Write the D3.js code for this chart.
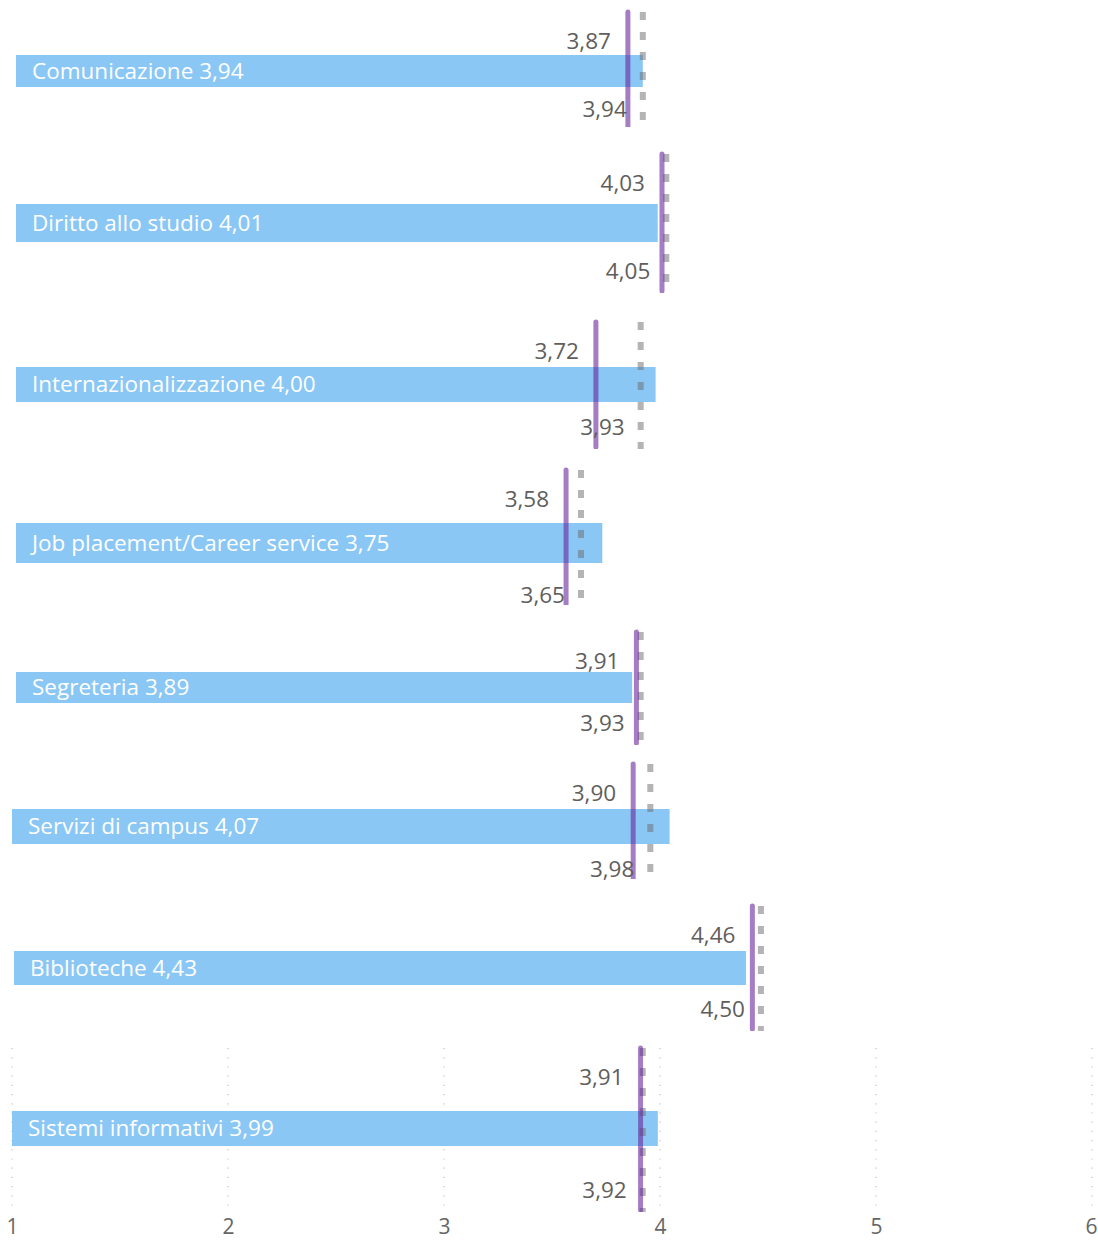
<!DOCTYPE html>
<html>
<head>
<meta charset="utf-8">
<script src="https://cdn.jsdelivr.net/npm/d3@7"></script>
<style>
  html, body { margin: 0; padding: 0; background: #fff; }
  svg { display: block; }
  text { font-family: "Segoe UI", "Open Sans", sans-serif; }
</style>
</head>
<body>
<svg id="chart" width="1098" height="1241"></svg>
<script>
// ---- data ----
const categories = [
  "Comunicazione",
  "Diritto allo studio",
  "Internazionalizzazione",
  "Job placement/Career service",
  "Segreteria",
  "Servizi di campus",
  "Biblioteche",
  "Sistemi informativi"
];
const barValues    = [3.94, 4.01, 4.00, 3.75, 3.89, 4.07, 4.43, 3.99];
const purpleValues = [3.87, 4.03, 3.72, 3.58, 3.91, 3.90, 4.46, 3.91];
const greyValues   = [3.94, 4.05, 3.93, 3.65, 3.93, 3.98, 4.50, 3.92];
const xTicks = [1, 2, 3, 4, 5, 6];
const xDomain = [1, 6];

// ---- layout of the stacked small visuals (pixels) ----
const panels = [
  { x0: 16, x1: 1082, top: 10,   bottom: 131,  clip: 127,  barTop: 55,   barBottom: 87 },
  { x0: 16, x1: 1082, top: 152,  bottom: 293,  clip: 293,  barTop: 204,  barBottom: 242 },
  { x0: 16, x1: 1082, top: 320,  bottom: 449,  clip: 449,  barTop: 367,  barBottom: 402 },
  { x0: 16, x1: 1082, top: 468,  bottom: 617,  clip: 605,  barTop: 523,  barBottom: 563 },
  { x0: 16, x1: 1082, top: 630,  bottom: 745,  clip: 745,  barTop: 672,  barBottom: 703 },
  { x0: 12, x1: 1083, top: 762,  bottom: 891,  clip: 879,  barTop: 809,  barBottom: 844 },
  { x0: 14, x1: 1081, top: 904,  bottom: 1031, clip: 1031, barTop: 951,  barBottom: 985 },
  { x0: 12, x1: 1092, top: 1046, bottom: 1212, clip: 1212, barTop: 1111, barBottom: 1146 }
];

const locale = d3.formatLocale({ decimal: ",", thousands: ".", grouping: [3], currency: ["", "€"] });
const fmt = locale.format(".2f");

const svg = d3.select("#chart");
const defs = svg.append("defs");

const BAR = "#8AC7F5";
const PURPLE = "#67279D";
const GREY = "#696969";
const LABEL = "#605E5C";
const FS = 22.5;

categories.forEach((cat, i) => {
  const p = panels[i];
  const x = d3.scaleLinear().domain(xDomain).range([p.x0, p.x1]);
  const y = d3.scaleBand().domain([cat]).range([p.barTop, p.barBottom]).padding(0);

  const clipId = "clip" + i;
  defs.append("clipPath").attr("id", clipId)
    .append("rect").attr("x", 0).attr("y", p.top - 5)
    .attr("width", 1098).attr("height", p.clip - p.top + 5);

  const g = svg.append("g");

  // gridlines + axis only in the last panel
  if (i === categories.length - 1) {
    g.append("g").selectAll("line").data(xTicks).join("line")
      .attr("x1", d => x(d)).attr("x2", d => x(d))
      .attr("y1", p.top + 2).attr("y2", p.bottom)
      .attr("stroke", "#c4c4c4").attr("stroke-width", 1.2)
      .attr("stroke-dasharray", "1.2,8");
    const axis = d3.axisBottom(x).tickValues(xTicks).tickSize(0).tickPadding(0)
      .tickFormat(d3.format("d"));
    const ax = g.append("g").attr("transform", `translate(0,${p.bottom})`).call(axis);
    ax.select(".domain").remove();
    ax.selectAll("text")
      .attr("y", 22).attr("dy", 0)
      .attr("fill", "#666").attr("font-size", 21)
      .attr("font-family", "'Segoe UI','Open Sans',sans-serif");
    ax.selectAll(".tick").filter(d => d === xDomain[1]).select("text")
      .attr("text-anchor", "end").attr("x", 5);
  }

  // bar
  g.append("rect")
    .attr("x", x(xDomain[0]))
    .attr("y", y(cat))
    .attr("width", x(barValues[i]) - x(xDomain[0]))
    .attr("height", y.bandwidth())
    .attr("fill", BAR);

  // bar label
  g.append("text")
    .attr("x", x(xDomain[0]) + 16)
    .attr("y", y(cat) + y.bandwidth() / 2)
    .attr("dy", "0.35em")
    .attr("fill", "#fff")
    .attr("font-size", FS)
    .text(cat + " " + fmt(barValues[i]));

  const lines = g.append("g").attr("clip-path", `url(#${clipId})`);
  // grey dotted line
  lines.append("line")
    .attr("x1", x(greyValues[i])).attr("x2", x(greyValues[i]))
    .attr("y1", p.top + 2).attr("y2", p.bottom)
    .attr("stroke", GREY).attr("stroke-opacity", 0.5)
    .attr("stroke-width", 6).attr("stroke-dasharray", "8,12");
  // purple solid line
  lines.append("line")
    .attr("x1", x(purpleValues[i])).attr("x2", x(purpleValues[i]))
    .attr("y1", p.top + 2).attr("y2", p.bottom - 2)
    .attr("stroke", PURPLE).attr("stroke-opacity", 0.6)
    .attr("stroke-width", 5).attr("stroke-linecap", "round");

  // upper label (purple value)
  g.append("text")
    .attr("x", x(purpleValues[i]) - 17)
    .attr("y", p.top + 31)
    .attr("dy", "0.35em")
    .attr("text-anchor", "end")
    .attr("fill", LABEL)
    .attr("font-size", FS)
    .text(fmt(purpleValues[i]));

  // lower label (grey value)
  g.append("text")
    .attr("x", x(greyValues[i]) - 16)
    .attr("y", p.bottom - 22)
    .attr("dy", "0.35em")
    .attr("text-anchor", "end")
    .attr("fill", LABEL)
    .attr("font-size", FS)
    .text(fmt(greyValues[i]));
});
</script>
</body>
</html>
